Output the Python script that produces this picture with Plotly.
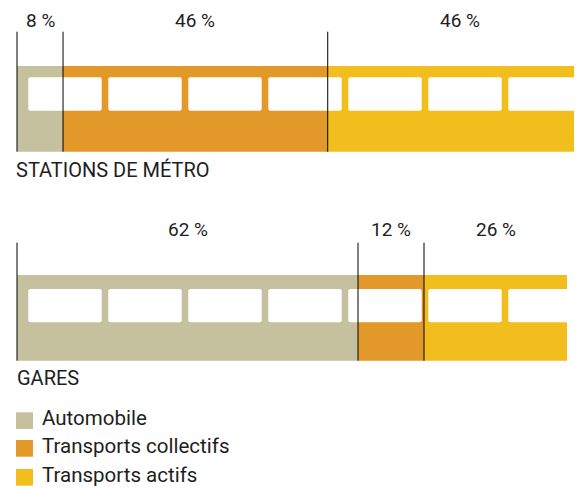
import plotly.graph_objects as go

# ---------------- data ----------------
categories = ["STATIONS DE MÉTRO", "GARES"]
modes = ["Automobile", "Transports collectifs", "Transports actifs"]
metro_values = [8, 46, 46]
gares_values = [62, 12, 26]
colors = ["#C5C19E", "#E3982A", "#F2BE1E"]

# ---------------- layout helpers ----------------
OFF = 8                      # page body margin of the browser
W, H = 582 - OFF, 488 - OFF  # figure size so it exactly fills the window
FONT = "Roboto"
TXT = "#1e1e1e"


def px(x):
    """page pixel x -> paper"""
    return (x - OFF) / W


def py(y):
    """page pixel y -> paper"""
    return 1 - (y - OFF) / H


# scales (px per percent) for the two trains, 0 % at page pixel 17
x0_px = 17
scales = [5.754, 5.5]
bar_tops = [65.7, 275.0]
bar_bots = [151.7, 360.7]
line_tops = [31.7, 242.7]
label_y = [20.0, 229.5]
cat_y = [170.0, 377.5]
win_tops = [77.3, 289.0]
win_bots = [110.7, 322.3]

series = [metro_values, gares_values]
axis_names = [("x", "y"), ("x2", "y2")]

fig = go.Figure()
shapes = []
annotations = []

for i, vals in enumerate(series):
    xa, ya = axis_names[i]
    for name, v, c in zip(modes, vals, colors):
        fig.add_trace(go.Bar(
            x=[v], y=[0], orientation="h", width=1,
            marker=dict(color=c, line=dict(width=0)),
            name=name, showlegend=False, xaxis=xa, yaxis=ya,
            hovertemplate=f"{categories[i]}<br>{name}: {v} %<extra></extra>",
        ))

# windows (decorative)
r = 2.0
for i in range(2):
    for k in range(7):
        xl = 28.3 + 80 * k
        xr = min(xl + 73.4, 581.9)
        yt, yb = win_tops[i], win_bots[i]
        path = (
            f"M {px(xl + r)},{py(yt)} L {px(xr - r)},{py(yt)} "
            f"Q {px(xr)},{py(yt)} {px(xr)},{py(yt + r)} "
            f"L {px(xr)},{py(yb - r)} Q {px(xr)},{py(yb)} {px(xr - r)},{py(yb)} "
            f"L {px(xl + r)},{py(yb)} Q {px(xl)},{py(yb)} {px(xl)},{py(yb - r)} "
            f"L {px(xl)},{py(yt + r)} Q {px(xl)},{py(yt)} {px(xl + r)},{py(yt)} Z"
        )
        shapes.append(dict(type="path", path=path, xref="paper", yref="paper",
                           fillcolor="white", line=dict(width=0), layer="above"))

# boundary lines and percentage labels
for i, vals in enumerate(series):
    xa = axis_names[i][0]
    cum = 0
    for v in vals:
        if cum < 100:
            shapes.append(dict(type="line", xref=xa, yref="paper",
                               x0=cum, x1=cum, y0=py(bar_bots[i]), y1=py(line_tops[i]),
                               line=dict(color="black", width=1), layer="above"))
        annotations.append(dict(x=cum + v / 2, xref=xa, y=py(label_y[i]), yref="paper",
                                text=f"{v} %", showarrow=False, xanchor="center",
                                yanchor="middle", font=dict(family=FONT, size=19, color=TXT)))
        cum += v
    annotations.append(dict(x=px(14 if i == 0 else 15), xref="paper", y=py(cat_y[i]), yref="paper",
                            text=categories[i], showarrow=False, xanchor="left",
                            yanchor="middle", font=dict(family=FONT, size=20, color=TXT)))

# manual legend
leg_tops = [412.3, 440.0, 469.0]
for name, c, t in zip(modes, colors, leg_tops):
    shapes.append(dict(type="rect", xref="paper", yref="paper",
                       x0=px(16), x1=px(33), y0=py(t + 16.7), y1=py(t),
                       fillcolor=c, line=dict(width=0)))
    annotations.append(dict(x=px(41), xref="paper", y=py(t + 6.0), yref="paper",
                            text=name, showarrow=False, xanchor="left", yanchor="middle",
                            borderpad=0,
                            font=dict(family=FONT, size=20.5, color=TXT)))

lay = dict(
    width=W, height=H,
    margin=dict(l=0, r=0, t=0, b=0),
    paper_bgcolor="white", plot_bgcolor="rgba(0,0,0,0)",
    barmode="stack", bargap=0,
    showlegend=False,
    shapes=shapes, annotations=annotations,
)
for i in range(2):
    s = scales[i]
    suffix = "" if i == 0 else "2"
    lay["xaxis" + suffix] = dict(range=[-(x0_px - OFF) / s, (582 - x0_px) / s], domain=[0, 1],
                                 visible=False, fixedrange=True,
                                 anchor="y" + suffix)
    lay["yaxis" + suffix] = dict(range=[-0.5, 0.5], domain=[py(bar_bots[i]), py(bar_tops[i])],
                                 visible=False, fixedrange=True,
                                 anchor="x" + suffix)
fig.update_layout(**lay)
fig.write_html("out.html")
